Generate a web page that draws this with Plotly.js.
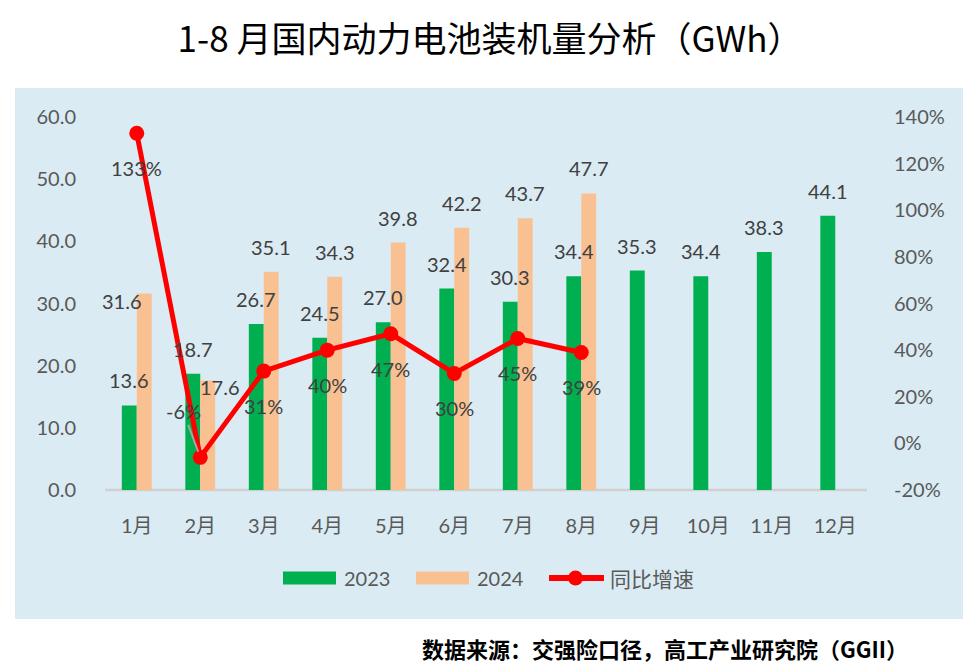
<!DOCTYPE html>
<html>
<head>
<meta charset="utf-8">
<script src="https://cdn.plot.ly/plotly-3.0.1.min.js"></script>
<style>html,body{margin:0;padding:0;background:#fff;}#chart{width:980px;height:671px;}</style>
</head>
<body>
<div id="chart"></div>
<script>
// ---- data ----
const months = ['1月','2月','3月','4月','5月','6月','7月','8月','9月','10月','11月','12月'];
const vol2023 = [13.6, 18.7, 26.7, 24.5, 27.0, 32.4, 30.3, 34.4, 35.3, 34.4, 38.3, 44.1];
const vol2024 = [31.6, 17.6, 35.1, 34.3, 39.8, 42.2, 43.7, 47.7];
const yoyPct  = [133, -6, 31, 40, 47, 30, 45, 39];
const yTicks  = [0, 10, 20, 30, 40, 50, 60];
const y2Ticks = [-20, 0, 20, 40, 60, 80, 100, 120, 140];
const seriesNames = ['2023', '2024', '同比增速'];

// ---- geometry helpers (page px -> paper) ----
const PL = 105, PR = 867, PT = 117, PB = 490;
const px2x = p => (p - PL) / (PR - PL);
const px2y = p => (PB - p) / (PB - PT);

const GREEN = '#00B050', ORANGE = '#F9C192', RED = '#FF0000';
const LABEL = '#404040', AXIS = '#595959';
const FONT = 'Lato, "Noto Sans CJK SC", sans-serif';
const CJK = '"Noto Sans CJK SC", sans-serif';

const traces = [
  {type:'bar', name:seriesNames[0], x:months, y:vol2023, marker:{color:GREEN}, hoverinfo:'skip'},
  {type:'bar', name:seriesNames[1], x:months.slice(0, vol2024.length), y:vol2024, marker:{color:ORANGE}, hoverinfo:'skip'},
  {type:'scatter', mode:'lines+markers', name:seriesNames[2], x:months.slice(0, yoyPct.length), y:yoyPct, yaxis:'y2',
   line:{color:RED, width:5}, marker:{color:RED, size:15}, hoverinfo:'skip'}
];

const annotations = [];
// 2023 labels
vol2023.forEach((v, i) => {
  annotations.push({x:months[i], y:v, xref:'x', yref:'y', text:v.toFixed(1), showarrow:false,
    xshift:-7.5, yshift:25, font:{family:FONT, size:20, color:LABEL}});
});
// 2024 labels (a couple moved aside as in the original)
const shift2024 = {0:{xs:-15, ys:-7}, 1:{xs:20, ys:-6}};
vol2024.forEach((v, i) => {
  const s = shift2024[i] || {xs:7.5, ys:25};
  annotations.push({x:months[i], y:v, xref:'x', yref:'y', text:v.toFixed(1), showarrow:false,
    xshift:s.xs, yshift:s.ys, font:{family:FONT, size:20, color:LABEL}});
});
// YoY labels
yoyPct.forEach((v, i) => {
  if (v < 0) {
    annotations.push({x:months[i], y:v, xref:'x', yref:'y2', text:v + '%', showarrow:true,
      arrowhead:0, arrowwidth:2, arrowcolor:'#A6A6A6', ax:-17, ay:-46, standoff:6,
      font:{family:FONT, size:20, color:LABEL}});
  } else {
    annotations.push({x:months[i], y:v, xref:'x', yref:'y2', text:v + '%', showarrow:false,
      yshift:-35, font:{family:FONT, size:20, color:LABEL}});
  }
});

// custom legend
const LY = 578;
const shapes = [
  {type:'rect', xref:'paper', yref:'paper', x0:px2x(15), x1:px2x(963), y0:px2y(619), y1:px2y(88),
   fillcolor:'#DAEBF3', line:{width:0}, layer:'below'},
  {type:'line', xref:'paper', yref:'paper', x0:0, x1:1, y0:0, y1:0, line:{color:'#D0D0D0', width:2.5}, layer:'below'},
  {type:'rect', xref:'paper', yref:'paper', x0:px2x(283), x1:px2x(336), y0:px2y(LY+6.5), y1:px2y(LY-6.5), fillcolor:GREEN, line:{width:0}},
  {type:'rect', xref:'paper', yref:'paper', x0:px2x(416), x1:px2x(469), y0:px2y(LY+6.5), y1:px2y(LY-6.5), fillcolor:ORANGE, line:{width:0}},
  {type:'line', xref:'paper', yref:'paper', x0:px2x(549), x1:px2x(604), y0:px2y(LY), y1:px2y(LY), line:{color:RED, width:6}},
  {type:'circle', xref:'paper', yref:'paper', x0:px2x(568), x1:px2x(583), y0:px2y(LY+7.5), y1:px2y(LY-7.5), fillcolor:RED, line:{width:0}}
];
annotations.push(
  {xref:'paper', yref:'paper', x:px2x(342), y:px2y(LY), xanchor:'left', yanchor:'middle', showarrow:false,
   text:seriesNames[0], font:{family:FONT, size:20, color:AXIS}},
  {xref:'paper', yref:'paper', x:px2x(475), y:px2y(LY), xanchor:'left', yanchor:'middle', showarrow:false,
   text:seriesNames[1], font:{family:FONT, size:20, color:AXIS}},
  {xref:'paper', yref:'paper', x:px2x(608), y:px2y(LY), xanchor:'left', yanchor:'middle', showarrow:false,
   text:seriesNames[2], font:{family:CJK, size:21, color:AXIS}},
  {xref:'paper', yref:'paper', x:px2x(910), y:px2y(648), xanchor:'right', yanchor:'middle', showarrow:false,
   text:'<b>数据来源：交强险口径，高工产业研究院（GGII）</b>', font:{family:CJK, size:22, color:'#000000'}}
);

const layout = {
  width:980, height:671,
  margin:{l:PL, r:980-PR, t:PT, b:671-PB, pad:0},
  paper_bgcolor:'#FFFFFF', plot_bgcolor:'rgba(0,0,0,0)',
  title:{text:'1-8 月国内动力电池装机量分析（GWh）', x:0.5, xref:'container', xanchor:'center',
         y:1-40/671, yref:'container', yanchor:'middle',
         font:{family:CJK, size:35, color:'#000000'}},
  showlegend:false,
  barmode:'group', bargap:0.53, bargroupgap:0,
  xaxis:{type:'category', categoryorder:'array', categoryarray:months, range:[-0.5, months.length - 0.5], autorange:false,
         showgrid:false, showline:false, zeroline:false,
         ticks:'outside', ticklen:18, tickcolor:'rgba(0,0,0,0)',
         tickfont:{family:FONT, size:20, color:AXIS}},
  yaxis:{range:[0,60], autorange:false, tickvals:yTicks, ticktext:yTicks.map(v=>v.toFixed(1)), showgrid:false, zeroline:false, showline:false,
         ticks:'outside', ticklen:24, tickcolor:'rgba(0,0,0,0)',
         tickfont:{family:FONT, size:20, color:AXIS}},
  yaxis2:{range:[-20,140], autorange:false, tickvals:y2Ticks, ticktext:y2Ticks.map(v=>v+'%'), overlaying:'y', side:'right',
          showgrid:false, zeroline:false, showline:false,
          ticks:'outside', ticklen:22, tickcolor:'rgba(0,0,0,0)',
          tickfont:{family:FONT, size:20, color:AXIS}},
  shapes:shapes,
  annotations:annotations
};

Plotly.newPlot('chart', traces, layout, {staticPlot:true, displayModeBar:false});
</script>
</body>
</html>
